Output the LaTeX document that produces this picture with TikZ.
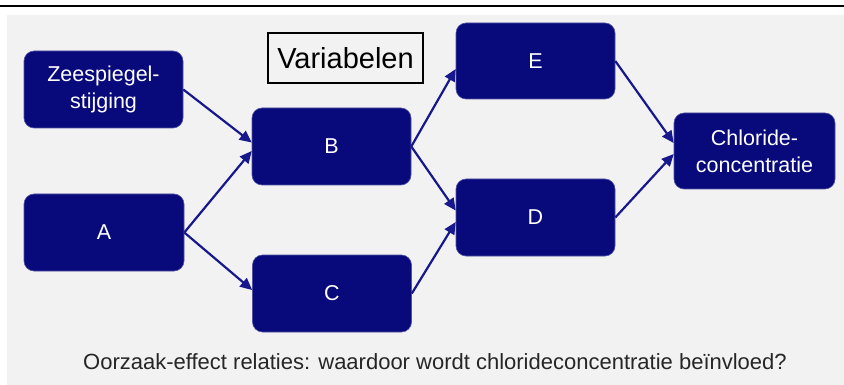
\documentclass[tikz,border=0pt]{standalone}
\usepackage{fontspec}
\setmainfont{Liberation Sans}
\usetikzlibrary{arrows.meta}
\definecolor{navybox}{RGB}{8,10,124}
\definecolor{navyline}{RGB}{22,24,140}
\definecolor{panel}{RGB}{242,242,242}
\tikzset{
  varbox/.style={rounded corners=10pt, fill=navybox, draw=navybox!70!white, line width=0.6pt,
    text=white, minimum width=159pt, minimum height=77pt, inner sep=0pt, align=center,
    font=\fontsize{21.5}{27}\selectfont},
  link/.style={draw=navyline, line width=2.2pt, -{Triangle[length=12pt,width=11pt]}},
}
\begin{document}
\begin{tikzpicture}[x=1pt,y=-1pt]
\useasboundingbox (0,0) rectangle (844,385);
\fill[white] (0,0) rectangle (844,385);
\fill[panel] (7,15) rectangle (844,385);
\draw[line width=2.4pt, black] (0,6) -- (844,6);

\node[varbox] (zee) at (103.5,89.5) {Zeespiegel-\\stijging};
\node[varbox, minimum width=160pt] (a) at (104,232.5) {A};
\node[varbox] (b) at (331.5,146.5) {B};
\node[varbox] (c) at (332,293.5) {C};
\node[varbox, minimum height=76pt] (e) at (535.5,61) {E};
\node[varbox] (d) at (535.5,217.5) {D};
\node[varbox, minimum width=161pt, minimum height=76pt] (chl) at (754.5,151) {Chloride-\\concentratie};

\node[draw=black, line width=1.8pt, minimum width=155pt, minimum height=50pt, inner sep=0pt,
  font=\fontsize{29}{34}\selectfont] (var) at (345.5,58) {Variabelen};

\node[font=\fontsize{22}{26}\selectfont, text=black!85] (cap) at (435,362)
  {Oorzaak-effect relaties: waardoor wordt chlorideconcentratie beïnvloed?};

\draw[link] (zee.east) -- ([yshift=4pt]b.west);
\draw[link] (a.east) -- ([yshift=-4.5pt]b.west);
\draw[link] (a.east) -- ([yshift=3.5pt]c.west);
\draw[link] (b.east) -- ([yshift=-8pt]e.west);
\draw[link] (b.east) -- ([yshift=7pt]d.west);
\draw[link] (c.east) -- ([yshift=-4.5pt]d.west);
\draw[link] (e.east) -- ([yshift=8pt]chl.west);
\draw[link] (d.east) -- ([yshift=-3pt]chl.west);
\end{tikzpicture}
\end{document}
